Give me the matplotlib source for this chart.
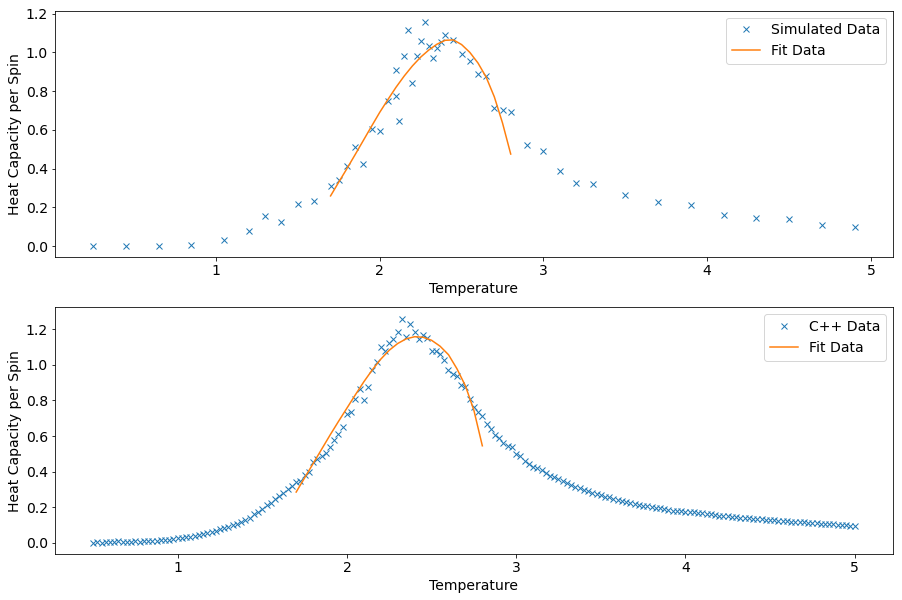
import numpy as np
import matplotlib
matplotlib.use('Agg')
import matplotlib.pyplot as plt

plt.rcParams['font.size'] = 14

# simulated (python) run
T_sim = [0.25, 0.45, 0.65, 0.85, 1.05, 1.2, 1.3, 1.4, 1.5, 1.6,
         1.7, 1.75, 1.8, 1.85, 1.9, 1.95, 2.0, 2.05, 2.1, 2.1,
         2.12, 2.15, 2.175, 2.2, 2.225, 2.255, 2.278, 2.3, 2.327, 2.35,
         2.376, 2.4, 2.45, 2.5, 2.55, 2.6, 2.65, 2.7, 2.75, 2.8,
         2.9, 3.0, 3.1, 3.2, 3.3, 3.5, 3.7, 3.9, 4.1, 4.3,
         4.5, 4.7, 4.9]
C_sim = [0.0, 0.0, 0.0, 0.004, 0.03, 0.077, 0.153, 0.122, 0.215, 0.235,
         0.308, 0.342, 0.414, 0.51, 0.426, 0.604, 0.596, 0.75, 0.776, 0.91,
         0.647, 0.982, 1.116, 0.84, 0.982, 1.06, 1.157, 1.034, 0.972, 1.02,
         1.054, 1.09, 1.066, 0.992, 0.956, 0.889, 0.879, 0.712, 0.704, 0.69,
         0.524, 0.493, 0.385, 0.328, 0.318, 0.266, 0.225, 0.21, 0.158, 0.143,
         0.138, 0.107, 0.096]

T_fit1 = [1.7, 1.75, 1.8, 1.85, 1.9, 1.95, 2.0, 2.05, 2.1, 2.15, 2.2, 2.25,
          2.3, 2.35, 2.4, 2.45, 2.5, 2.55, 2.6, 2.65, 2.7, 2.75, 2.8]
C_fit1 = [0.259, 0.33, 0.40, 0.472, 0.545, 0.618, 0.69, 0.756, 0.82, 0.878, 0.93, 0.975,
          1.012, 1.042, 1.062, 1.064, 1.04, 1.0, 0.945, 0.872, 0.77, 0.635, 0.475]

# C++ run, temperature sweep 0.5 .. 5.0 in steps of 0.025
T_cpp = np.linspace(0.5, 5.0, 181)
C_cpp = [0.000, 0.002, 0.000, 0.003, 0.002, 0.004, 0.012, 0.003, 0.005, 0.006,
         0.008, 0.006, 0.009, 0.008, 0.011, 0.012, 0.014, 0.016, 0.018, 0.021,
         0.024, 0.027, 0.030, 0.034, 0.038, 0.043, 0.048, 0.054, 0.061, 0.067,
         0.075, 0.082, 0.090, 0.099, 0.108, 0.118, 0.128, 0.142, 0.160, 0.172,
         0.190, 0.215, 0.225, 0.245, 0.265, 0.280, 0.300, 0.318, 0.340, 0.345,
         0.380, 0.398, 0.455, 0.470, 0.490, 0.505, 0.537, 0.575, 0.610, 0.650,
         0.725, 0.735, 0.810, 0.866, 0.805, 0.875, 0.970, 1.016, 1.100, 1.080,
         1.120, 1.148, 1.185, 1.260, 1.157, 1.230, 1.185, 1.148, 1.166, 1.150,
         1.080, 1.080, 1.063, 1.025, 0.969, 0.950, 0.940, 0.885, 0.875, 0.810,
         0.762, 0.734, 0.715, 0.669, 0.640, 0.605, 0.590, 0.560, 0.546, 0.537,
         0.500, 0.485, 0.462, 0.445, 0.424, 0.420, 0.411, 0.390, 0.377, 0.368,
         0.358, 0.349, 0.335, 0.322, 0.316, 0.305, 0.297, 0.290, 0.282, 0.274,
         0.268, 0.260, 0.255, 0.248, 0.240, 0.234, 0.228, 0.221, 0.218, 0.213,
         0.209, 0.205, 0.202, 0.198, 0.193, 0.189, 0.186, 0.181, 0.180, 0.176,
         0.174, 0.172, 0.171, 0.168, 0.165, 0.162, 0.160, 0.156, 0.152, 0.151,
         0.148, 0.146, 0.145, 0.142, 0.139, 0.138, 0.136, 0.134, 0.132, 0.130,
         0.128, 0.126, 0.124, 0.123, 0.121, 0.119, 0.117, 0.115, 0.114, 0.112,
         0.111, 0.109, 0.108, 0.107, 0.105, 0.103, 0.102, 0.100, 0.099, 0.097,
         0.096]

T_fit2 = [1.7, 1.75, 1.8, 1.85, 1.9, 1.95, 2.0, 2.05, 2.1, 2.15, 2.2, 2.25,
          2.3, 2.35, 2.4, 2.45, 2.5, 2.55, 2.6, 2.65, 2.7, 2.75, 2.8]
C_fit2 = [0.285, 0.365, 0.445, 0.525, 0.605, 0.682, 0.757, 0.832, 0.905, 0.972, 1.032, 1.082,
          1.12, 1.146, 1.158, 1.155, 1.138, 1.105, 1.057, 0.978, 0.882, 0.745, 0.545]

# drawn at 72 dpi, like the original notebook output
fig, (ax1, ax2) = plt.subplots(2, 1, figsize=(902 / 72, 600 / 72), dpi=72)
fig.subplots_adjust(left=0.061, right=0.9897, bottom=0.0767, top=0.9822, hspace=0.203)

ax1.plot(T_sim, C_sim, 'x', label='Simulated Data')
ax1.plot(T_fit1, C_fit1, label='Fit Data')
ax1.set_xlabel('Temperature')
ax1.set_ylabel('Heat Capacity per Spin')
ax1.legend(loc='upper right')

ax2.plot(T_cpp, C_cpp, 'x', label='C++ Data')
ax2.plot(T_fit2, C_fit2, label='Fit Data')
ax2.set_xlabel('Temperature')
ax2.set_ylabel('Heat Capacity per Spin')
ax2.legend(loc='upper right')

fig.savefig('out.png')
